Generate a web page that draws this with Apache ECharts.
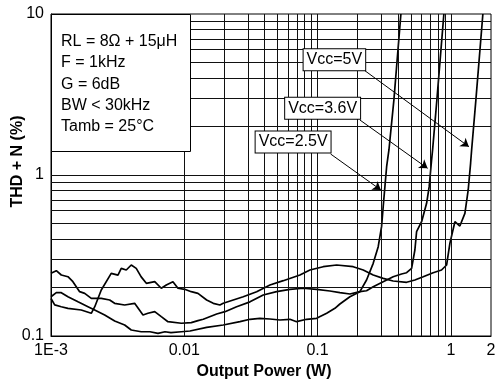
<!DOCTYPE html>
<html>
<head>
<meta charset="utf-8">
<script src="https://cdn.jsdelivr.net/npm/echarts@6/dist/echarts.min.js"></script>
<style>
  html, body { margin: 0; padding: 0; background: #fff; }
  #chart { width: 497px; height: 383px; }
</style>
</head>
<body>
<div id="chart"></div>
<script>
// ---- data ----
const xTickValues = [0.001, 0.01, 0.1, 1, 2];
const xTickLabels = ['1E-3', '0.01', '0.1', '1', '2'];
const yTickValues = [0.1, 1, 10];
const yTickLabels = ['0.1', '1', '10'];

const xGridValues = [0.002, 0.003, 0.004, 0.005, 0.006, 0.007, 0.008, 0.009, 0.01,
  0.02, 0.03, 0.04, 0.05, 0.06, 0.07, 0.08, 0.09, 0.1,
  0.2, 0.3, 0.4, 0.5, 0.6, 0.7, 0.8, 0.9, 1];
const yGridValues = [0.2, 0.3, 0.4, 0.5, 0.6, 0.7, 0.8, 0.9, 1,
  2, 3, 4, 5, 6, 7, 8, 9];

const vcc5 = [
  [0.001, 0.171], [0.001066, 0.156], [0.001194, 0.152], [0.00134, 0.1486], [0.001686, 0.145],
  [0.002005, 0.1384], [0.00213, 0.152], [0.002383, 0.193], [0.00283, 0.245], [0.00318, 0.239],
  [0.003366, 0.263], [0.00367, 0.257], [0.004, 0.276], [0.00436, 0.263], [0.00475, 0.233],
  [0.00519, 0.2125], [0.006, 0.2175], [0.00672, 0.198], [0.00733, 0.2075], [0.00822, 0.2175],
  [0.00896, 0.198], [0.01007, 0.195], [0.01128, 0.1885], [0.01266, 0.184], [0.01472, 0.1674],
  [0.0165, 0.1596], [0.0185, 0.1558], [0.0196, 0.1596], [0.0233, 0.1674], [0.0277, 0.1754],
  [0.0349, 0.1885], [0.0439, 0.2074], [0.0553, 0.2206], [0.0737, 0.2393], [0.0876, 0.257],
  [0.1102, 0.2694], [0.139, 0.276], [0.185, 0.2694], [0.22, 0.257], [0.2614, 0.2393],
  [0.3106, 0.228], [0.369, 0.2196], [0.4654, 0.2156], [0.537, 0.2228], [0.62, 0.2335],
  [0.7366, 0.2472], [0.851, 0.257], [0.9286, 0.276], [0.983, 0.3764], [1.072, 0.5128],
  [1.168, 0.482], [1.274, 0.578], [1.349, 0.807], [1.406, 1.182], [1.431, 1.43],
  [1.54, 2.92], [1.738, 10]
];
const vcc36 = [
  [0.001, 0.245], [0.001096, 0.2544], [0.001195, 0.2393], [0.00134, 0.2335], [0.00146, 0.2175],
  [0.00164, 0.1885], [0.00179, 0.184], [0.002006, 0.1714], [0.002383, 0.1714], [0.002756, 0.1674],
  [0.003, 0.1596], [0.00357, 0.1558], [0.00424, 0.1596], [0.0049, 0.135], [0.00534, 0.1384],
  [0.006, 0.1416], [0.00672, 0.1318], [0.00754, 0.1227], [0.0095, 0.12], [0.01128, 0.121],
  [0.01266, 0.1245], [0.01388, 0.127], [0.0175, 0.137], [0.0202, 0.1416], [0.0247, 0.152],
  [0.0311, 0.163], [0.0391, 0.1798], [0.0493, 0.1885], [0.062, 0.195], [0.078, 0.198],
  [0.0983, 0.195], [0.1237, 0.1904], [0.147, 0.1858], [0.1748, 0.1823], [0.2077, 0.1885],
  [0.233, 0.191], [0.2614, 0.2024], [0.3106, 0.2175], [0.369, 0.2335], [0.4266, 0.2427],
  [0.4654, 0.2472], [0.5074, 0.2633], [0.537, 0.342], [0.553, 0.4444], [0.603, 0.5128],
  [0.6574, 0.667], [0.6875, 0.846], [0.7166, 1.24], [0.7291, 1.43], [0.785, 2.92], [0.886, 10]
];
const vcc25 = [
  [0.001, 0.1754], [0.001096, 0.1858], [0.001195, 0.1858], [0.00134, 0.1754], [0.001594, 0.163],
  [0.001894, 0.152], [0.002127, 0.145], [0.002527, 0.135], [0.003005, 0.124], [0.00357, 0.117],
  [0.004, 0.109], [0.00475, 0.1063], [0.00553, 0.1063], [0.00635, 0.1039], [0.00716, 0.1063],
  [0.00794, 0.105], [0.0095, 0.1063], [0.01103, 0.1074], [0.01472, 0.1132], [0.0196, 0.117],
  [0.02615, 0.1227], [0.0311, 0.127], [0.0369, 0.1288], [0.0439, 0.1275], [0.0522, 0.1257],
  [0.062, 0.127], [0.0696, 0.1227], [0.0828, 0.127], [0.0983, 0.1288], [0.117, 0.1384],
  [0.1349, 0.1486], [0.147, 0.158], [0.1748, 0.1754], [0.2077, 0.1885], [0.233, 0.2228],
  [0.2614, 0.2828], [0.285, 0.3587], [0.302, 0.4775], [0.3106, 0.6355], [0.32, 0.846],
  [0.3296, 1.126], [0.343, 1.43], [0.3736, 2.92], [0.4217, 10]
];

const seriesNames = ['Vcc=5V', 'Vcc=3.6V', 'Vcc=2.5V'];
// label box centres and arrow [start, end] in data coordinates
const labelPos = [[0.1337, 5.2], [0.1091, 2.596], [0.0655, 1.603]];
const arrowPos = [
  [[0.2265, 4.444], [1.365, 1.499]],
  [[0.2077, 2.196], [0.6687, 1.1]],
  [[0.1253, 1.35], [0.2985, 0.807]]
];
const conditionLines = ['RL = 8Ω + 15μH', 'F = 1kHz', 'G = 6dB', 'BW < 30kHz', 'Tamb = 25°C'];

function pickLabel(v, vals, labels) {
  let best = 0, bd = Infinity;
  for (let i = 0; i < vals.length; i++) {
    const d = Math.abs(Math.log10(v) - Math.log10(vals[i]));
    if (d < bd) { bd = d; best = i; }
  }
  return bd < 0.02 ? labels[best] : '';
}

const FONT = 'Liberation Sans, Arial, sans-serif';
const chart = echarts.init(document.getElementById('chart'), null, { renderer: 'canvas' });

const gridSeries = {
  type: 'line', data: [], silent: true, z: 1,
  markLine: {
    silent: true, symbol: ['none', 'none'], animation: false,
    label: { show: false },
    lineStyle: { color: '#111', width: 1, type: 'solid' },
    emphasis: { disabled: true },
    data: xGridValues.map(v => ({ xAxis: v })).concat(yGridValues.map(v => ({ yAxis: v })))
  }
};

const curves = [vcc5, vcc36, vcc25].map((d, i) => ({
  name: seriesNames[i], type: 'line', data: d, symbol: 'none', z: 3,
  lineStyle: { color: '#000', width: 1.7 }, animation: false,
  markLine: {
    silent: true, animation: false, symbol: ['none', 'arrow'], symbolSize: 8,
    label: { show: false },
    itemStyle: { color: '#000' },
    lineStyle: { color: '#000', width: 1, type: 'solid' },
    data: [[{ coord: arrowPos[i][0] }, { coord: arrowPos[i][1] }]]
  },
  markPoint: {
    silent: true, animation: false, symbol: 'rect', symbolSize: 1,
    itemStyle: { color: 'rgba(0,0,0,0)' },
    label: {
      show: true, position: 'inside', formatter: seriesNames[i],
      color: '#000', fontFamily: FONT, fontSize: 16,
      backgroundColor: '#fff', borderColor: '#000', borderWidth: 1,
      padding: [3, 3, 2, 3]
    },
    data: [{ coord: labelPos[i] }]
  }
}));

chart.setOption({
  animation: false,
  backgroundColor: '#fff',
  grid: { left: 51, top: 14, right: 6, bottom: 47, containLabel: false, outerBoundsMode: 'none',
    show: true, borderColor: '#000', borderWidth: 1, backgroundColor: 'transparent' },
  xAxis: {
    type: 'log', logBase: 10, min: 0.001, max: 2,
    name: 'Output Power (W)', nameLocation: 'middle', nameGap: 26,
    nameTextStyle: { fontFamily: FONT, fontSize: 16, fontWeight: 'bold', color: '#000', padding: [0, 14, 0, 0] },
    axisLine: { lineStyle: { color: '#000', width: 1 } },
    axisTick: { show: false },
    splitLine: { show: false },
    minorTick: { show: false }, minorSplitLine: { show: false },
    axisLabel: {
      color: '#000', fontFamily: FONT, fontSize: 16, margin: 7,
      showMinLabel: true, showMaxLabel: true,
      formatter: v => pickLabel(v, xTickValues, xTickLabels)
    }
  },
  yAxis: {
    type: 'log', logBase: 10, min: 0.1, max: 10,
    name: 'THD + N (%)', nameLocation: 'middle', nameGap: 25, nameMoveOverlap: false,
    nameTextStyle: { fontFamily: FONT, fontSize: 16, fontWeight: 'bold', color: '#000', padding: [0, 0, 0, 27] },
    axisLine: { lineStyle: { color: '#000', width: 1 } },
    axisTick: { show: false },
    splitLine: { show: false },
    minorTick: { show: false }, minorSplitLine: { show: false },
    axisLabel: {
      color: '#000', fontFamily: FONT, fontSize: 16, margin: 7,
      formatter: v => pickLabel(v, yTickValues, yTickLabels)
    }
  },
  graphic: [
    { type: 'rect', z: 100, shape: { x: 51.5, y: 14.5, width: 139, height: 137 },
      style: { fill: '#fff', stroke: '#000', lineWidth: 1 } },
    { type: 'text', z: 101, left: 61, top: 31,
      style: { text: conditionLines.join('\n'), fill: '#000', font: '16px ' + FONT, lineHeight: 21.25 } }
  ],
  series: [gridSeries].concat(curves)
});
</script>
</body>
</html>
